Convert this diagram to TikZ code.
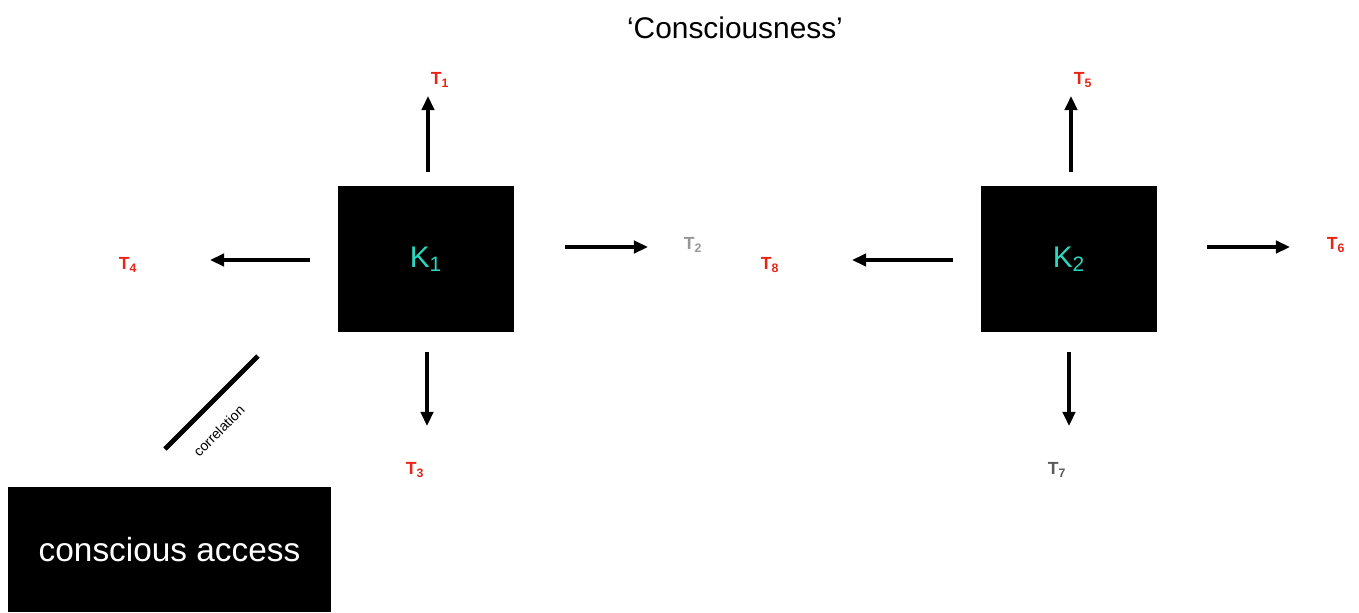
\documentclass[tikz,border=0pt]{standalone}
\usepackage{fontspec}
\setmainfont{Liberation Sans}
\usetikzlibrary{arrows.meta}
\definecolor{tred}{RGB}{232,36,22}
\definecolor{tgray}{RGB}{150,150,150}
\definecolor{tdark}{RGB}{90,90,90}
\definecolor{kcyan}{RGB}{40,215,190}
\tikzset{kbox/.style={fill=black, minimum width=3.52cm, minimum height=2.92cm, inner sep=0pt,
    text=kcyan, font=\fontsize{17}{19}\selectfont},
  tlab/.style={font=\bfseries\fontsize{10}{12}\selectfont, inner sep=0pt},
  push/.style={line width=2.3pt, -{Triangle[length=8pt,width=7pt]}}}

\begin{document}
\begin{tikzpicture}[x=0.02cm, y=-0.02cm]
	\useasboundingbox (0,0) rectangle (1359,612);
	\node[font=\fontsize{17}{19}\selectfont] (title) at (735,28) {`Consciousness'};

	% Left unit
	\node[kbox] (k1) at (426,259) {K\textsubscript{1}};
	\node[tlab, text=tred] (t1) at (440,80) {T\textsubscript{1}};
	\node[tlab, text=tgray] (t2) at (693,245) {T\textsubscript{2}};
	\node[tlab, text=tred] (t3) at (415,470) {T\textsubscript{3}};
	\node[tlab, text=tred] (t4) at (128,265) {T\textsubscript{4}};
	\coordinate (k1n) at (428,172); \coordinate (k1nt) at (428,96);
	\coordinate (k1e) at (565,247); \coordinate (k1et) at (648,247);
	\coordinate (k1s) at (427,352); \coordinate (k1st) at (427,426);
	\coordinate (k1w) at (310,260); \coordinate (k1wt) at (210,260);
	\foreach \d in {n,e,s,w}{
		\draw[push] (k1\d) -- (k1\d t);
	}

	% Right unit
	\node[kbox] (k2) at (1069,259) {K\textsubscript{2}};
	\node[tlab, text=tred] (t5) at (1083,80) {T\textsubscript{5}};
	\node[tlab, text=tred] (t6) at (1336,245) {T\textsubscript{6}};
	\node[tlab, text=tdark] (t7) at (1057,470) {T\textsubscript{7}};
	\node[tlab, text=tred] (t8) at (770,265) {T\textsubscript{8}};
	\coordinate (k2n) at (1071,172); \coordinate (k2nt) at (1071,96);
	\coordinate (k2e) at (1207,247); \coordinate (k2et) at (1290,247);
	\coordinate (k2s) at (1069,352); \coordinate (k2st) at (1069,426);
	\coordinate (k2w) at (953,260); \coordinate (k2wt) at (852,260);
	\foreach \d in {n,e,s,w}{
		\draw[push] (k2\d) -- (k2\d t);
	}

	% Access
	\coordinate (c1) at (258,356); \coordinate (c2) at (165,449);
	\draw[line width=2.8pt] (c1) -- (c2);
	\node[rotate=45, font=\fontsize{8}{9}\selectfont] (corr) at (219,431) {correlation};
	\node[fill=black, minimum width=6.46cm, minimum height=2.5cm, inner sep=0pt,
		text=white, font=\fontsize{19}{21}\selectfont] (access) at (169.5,549.5) {conscious access};
\end{tikzpicture}
\end{document}
